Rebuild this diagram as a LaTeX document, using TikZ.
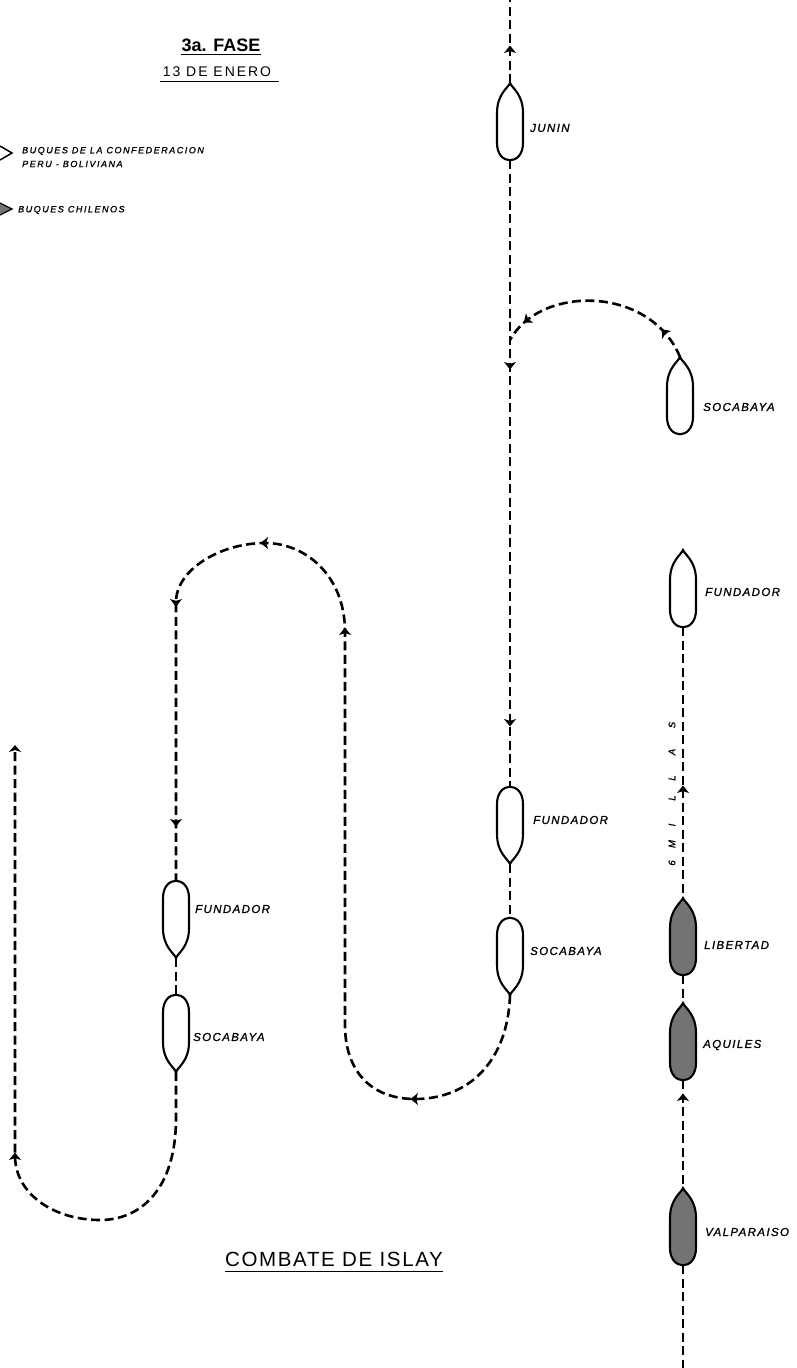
\documentclass[tikz,border=0pt]{standalone}
\usepackage{fontspec}
\setmainfont{Liberation Sans}
\newfontfamily\lblfont[LetterSpace=12, FakeBold=1.2]{Liberation Sans}
\newfontfamily\legfont[LetterSpace=17, FakeBold=1.2]{Liberation Sans}
\newfontfamily\headfont[LetterSpace=14]{Liberation Sans}
\newfontfamily\titlefont[LetterSpace=8]{Liberation Sans}
\usetikzlibrary{arrows.meta,decorations.markings}

\tikzset{
  route/.style={line width=2.6pt, dash pattern=on 9pt off 4.5pt},
  hull/.style={draw, line width=2.1pt, fill=white},
  chilean/.style={draw, line width=2.1pt, fill=black!55},
  lbl/.style={anchor=west, inner sep=0pt, font=\lblfont\itshape\fontsize{11.5}{13}\selectfont},
  leg/.style={anchor=west, inner sep=0pt, font=\legfont\itshape\fontsize{9}{10}\selectfont},
  ship/.pic={
    \path[pic actions] (0,0) .. controls (2,5) and (13,11) .. (13,30)
       -- (13,60) .. controls (13,83) and (-13,83) .. (-13,60)
       -- (-13,30) .. controls (-13,11) and (-2,5) .. (0,0) -- cycle;
    \coordinate (-bow) at (0,0);
    \coordinate (-stern) at (0,77);
  },
  tick/.pic={
    \fill (4.5,0) -- (-3,6) -- (-1.2,0) -- (-3,-6) -- cycle;
  },
  arc ticks/.style 2 args={postaction={decorate}, decoration={markings,
     mark=at position #1 with {\fill (4.5,0) -- (-3,6) -- (-1.2,0) -- (-3,-6) -- cycle;},
     mark=at position #2 with {\fill (4.5,0) -- (-3,6) -- (-1.2,0) -- (-3,-6) -- cycle;}}},
}

\begin{document}
\begin{tikzpicture}[x=1pt, y=-1pt]
\fill[white] (0,0) rectangle (796,1368);
\useasboundingbox (0,0) rectangle (796,1368);

% ---- heading and legend
\node[font=\bfseries\fontsize{18}{20}\selectfont, inner sep=0pt] (fase) at (221,45) {3a. FASE};
\draw[line width=1.8pt] ([yshift=-3pt]fase.south west) -- ([yshift=-3pt]fase.south east);
\node[font=\headfont\fontsize{14}{16}\selectfont, inner sep=0pt] (fecha) at (217,72) {13 DE ENERO};
\draw[line width=0.8pt] ([xshift=-3pt,yshift=-4pt]fecha.south west) -- ([xshift=8pt,yshift=-4pt]fecha.south east);

\draw[line width=1.5pt] (0,146) -- (12,153) -- (0,160);
\node[leg] (leg1) at (22,151) {BUQUES DE LA CONFEDERACION};
\node[leg] (leg2) at (22,164) {PERU - BOLIVIANA};
\filldraw[fill=black!55, line width=1.3pt] (0,203) -- (12,209) -- (0,215);
\node[leg] (leg3) at (18,210) {BUQUES CHILENOS};

% ---- ships of the Confederation
\pic[hull] (jun) at (510,83) {ship};
\pic[hull] (sr) at (680,357) {ship};
\pic[hull] (fr) at (683,550) {ship};
\pic[hull, rotate=180] (fm) at (510,864) {ship};
\pic[hull, rotate=180] (sm) at (510,995) {ship};
\pic[hull, rotate=180] (fl) at (176,958) {ship};
\pic[hull, rotate=180] (sl) at (176,1072) {ship};

% ---- Chilean ships
\pic[chilean] (lib) at (683,898) {ship};
\pic[chilean] (aqu) at (683,1003) {ship};
\pic[chilean] (val) at (683,1188) {ship};

% ---- ship names
\node[lbl] (n-jun) at (530,128) {JUNIN};
\node[lbl] (n-sr) at (703,407) {SOCABAYA};
\node[lbl] (n-fr) at (705,592) {FUNDADOR};
\node[lbl] (n-fm) at (533,820) {FUNDADOR};
\node[lbl] (n-sm) at (530,951) {SOCABAYA};
\node[lbl] (n-fl) at (195,909) {FUNDADOR};
\node[lbl] (n-sl) at (193,1037) {SOCABAYA};
\node[lbl] (n-lib) at (704,945) {LIBERTAD};
\node[lbl] (n-aqu) at (703,1045) {AQUILES};
\node[lbl] (n-val) at (705,1232) {VALPARAISO};

% ---- tracks
\coordinate (top) at (510,0);
\coordinate (j1) at (510,340);
\coordinate (b1) at (415,1099);
\coordinate (v1) at (345,632);
\coordinate (t1) at (265,543);
\coordinate (v2) at (176,602);
\coordinate (c1) at (176,1118);
\coordinate (b2) at (100,1220);
\coordinate (w1) at (15,1157);
\coordinate (endL) at (15,745);
\coordinate (bot) at (683,1368);

\draw[route] (jun-bow) -- (top);
\draw[route] (jun-stern) -- (fm-stern);
\draw[route, arc ticks={0.14}{0.87}] (sr-bow) .. controls (650,285) and (540,285) .. (j1);
\draw[route] (fm-bow) -- (sm-stern);
\draw[route] (sm-bow) .. controls (508,1060) and (470,1099) .. (b1)
   .. controls (370,1099) and (345,1070) .. (345,1025) -- (v1)
   .. controls (345,575) and (305,543) .. (t1)
   .. controls (220,543) and (176,570) .. (v2) -- (fl-stern);
\draw[route] (fl-bow) -- (sl-stern);
\draw[route, -{Stealth[length=7pt,width=12pt,inset=2pt]}] (sl-bow) -- (c1)
   .. controls (176,1190) and (140,1220) .. (b2)
   .. controls (55,1220) and (16,1195) .. (w1) -- (endL);

\draw[route] (fr-stern) -- (lib-bow);
\draw[route] (lib-stern) -- (aqu-bow);
\draw[route] (aqu-stern) -- (val-bow);
\draw[route] (val-stern) -- (bot);

% ---- direction ticks
\pic[rotate=90] at (510,50) {tick};
\pic[rotate=-90] at (510,365) {tick};
\pic[rotate=-90] at (510,722) {tick};
\pic[rotate=180] at (b1) {tick};
\pic[rotate=90] at (v1) {tick};
\pic[rotate=180] at (t1) {tick};
\pic[rotate=-90] at (v2) {tick};
\pic[rotate=-90] at (176,822) {tick};
\pic[rotate=90] at (w1) {tick};
\pic[rotate=90] at (683,790) {tick};
\pic[rotate=90] at (683,1098) {tick};

% ---- distance mark
\foreach \ch/\yy [count=\i] in {6/863, M/844, I/825, L/798, L/778, A/752, S/725}
  \node[rotate=90, inner sep=0pt, font=\lblfont\itshape\fontsize{9.5}{10}\selectfont] (mil\i) at (672,\yy) {\ch};

% ---- title
\node[font=\titlefont\fontsize{20.5}{22}\selectfont, inner sep=0pt] (titulo) at (334,1259) {COMBATE DE ISLAY};
\draw[line width=1.3pt] ([yshift=-5pt]titulo.south west) -- ([yshift=-5pt]titulo.south east);
\end{tikzpicture}
\end{document}
